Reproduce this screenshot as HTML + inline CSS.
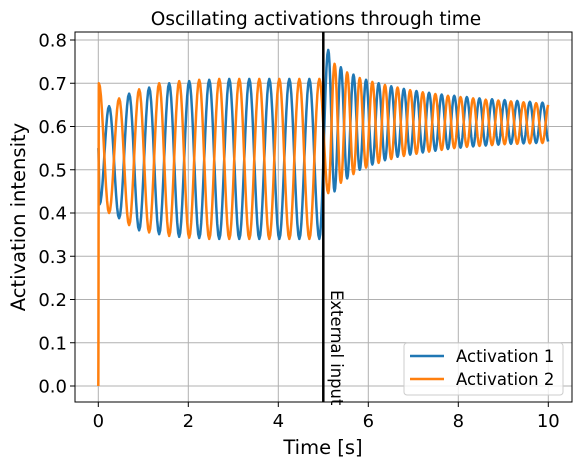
<!DOCTYPE html>
<html><head><meta charset="utf-8"><style>
body{margin:0;background:#fff;font-family:"Liberation Sans","DejaVu Sans",sans-serif}
svg text{font-family:"DejaVu Sans","Liberation Sans",sans-serif}
</style></head><body>
<svg id="chart" width="584" height="466" viewBox="0 0 584 466" xmlns="http://www.w3.org/2000/svg">
<rect width="584" height="466" fill="#fff"/>
<g id="grid"></g>
<g id="series"></g>
<line x1="323.3" y1="32" x2="323.3" y2="402" stroke="#000" stroke-width="2.5"/>
<text transform="translate(331,290) rotate(90)" font-size="16.4" fill="#000">External input</text>
<rect x="75" y="32" width="497" height="370" fill="none" stroke="#000" stroke-width="1"/>
<g id="ticks"></g>
<text x="316" y="25" font-size="18.5" text-anchor="middle">Oscillating activations through time</text>
<text x="323" y="454" font-size="19.5" text-anchor="middle">Time [s]</text>
<text transform="translate(25,217) rotate(-90)" font-size="19.5" text-anchor="middle">Activation intensity</text>
<g>
<rect x="404" y="343" width="159" height="52" rx="3" fill="#fff" fill-opacity="0.8" stroke="#ccc"/>
<line x1="410" y1="356" x2="444" y2="356" stroke="#1f77b4" stroke-width="2.5"/>
<text x="456" y="362" font-size="16.5">Activation 1</text>
<line x1="410" y1="379" x2="444" y2="379" stroke="#ff7f0e" stroke-width="2.5"/>
<text x="456" y="385" font-size="16.5">Activation 2</text>
</g>
</svg>
<script>
const xTicks=[0,2,4,6,8,10];
const yTicks=[0,0.1,0.2,0.3,0.4,0.5,0.6,0.7,0.8];
const yTickLabels=["0.0","0.1","0.2","0.3","0.4","0.5","0.6","0.7","0.8"];
// Activation 1 (blue): extrema values
const bluePrePeaks=[0.647,0.676,0.69,0.70,0.705,0.708,0.71,0.71,0.71,0.71,0.71];
const bluePreTroughs=[0.388,0.36,0.351,0.345,0.342,0.34,0.34,0.34,0.34,0.34,0.34];
const bluePostPeaks=[0.777,0.737,0.72,0.708,0.70,0.693,0.687,0.682,0.678,0.674,0.671,0.668,0.665,0.663,0.661,0.659,0.657,0.655];
const bluePostTroughs=[0.45,0.48,0.50,0.512,0.522,0.53,0.535,0.54,0.544,0.548,0.551,0.554,0.556,0.558,0.56,0.561,0.562,0.563];
// Activation 2 (orange)
const orangePrePeaks=[0.665,0.686,0.70,0.705,0.708,0.71,0.71,0.71,0.71,0.71,0.71];
const orangePreTroughs=[0.40,0.372,0.355,0.347,0.343,0.34,0.34,0.34,0.34,0.34,0.34];
const orangePostPeaks=[0.745,0.725,0.712,0.703,0.696,0.69,0.684,0.679,0.675,0.671,0.668,0.665,0.662,0.66,0.658,0.656,0.654,0.652];
const orangePostTroughs=[0.446,0.47,0.49,0.505,0.516,0.525,0.532,0.537,0.542,0.546,0.55,0.553,0.555,0.557,0.559,0.56,0.561,0.562];
const prePeriod=[0.445], postPeriod=[0.28];

const X=t=>98.3+45*t, Y=v=>386-432.5*v;
const NS="http://www.w3.org/2000/svg";
const grid=document.getElementById('grid'),ticks=document.getElementById('ticks'),ser=document.getElementById('series');
function mk(tag,attrs,parent){const e=document.createElementNS(NS,tag);for(const k in attrs)e.setAttribute(k,attrs[k]);parent.appendChild(e);return e;}
xTicks.forEach(t=>{
  const g=mk('line',{x1:X(t),x2:X(t),y1:32,y2:402,stroke:'#b0b0b0','stroke-width':1},grid);
  
  
  mk('line',{x1:X(t),x2:X(t),y1:402,y2:407,stroke:'#000'},ticks);
  const tx=mk('text',{x:X(t),y:427,'font-size':18,'text-anchor':'middle'},ticks);
  tx.textContent=t;
  
  
});
yTicks.forEach((v,i)=>{
  const g=mk('line',{x1:75,x2:572,y1:Y(v),y2:Y(v),stroke:'#b0b0b0','stroke-width':1},grid);
  
  
  mk('line',{x1:70,x2:75,y1:Y(v),y2:Y(v),stroke:'#000'},ticks);
  const tx=mk('text',{x:67,y:Y(v)+6.5,'font-size':18,'text-anchor':'end'},ticks);
  tx.textContent=yTickLabels[i];
  
  
});
function build(start,pre1,pre2,post1,post2,preT0,postT0){
  const ext=start.slice();const P=prePeriod[0],Q=postPeriod[0];
  for(let k=0;k<pre1.length;k++){ext.push([preT0+k*P,pre1[k]]);ext.push([preT0+k*P+P/2,pre2[k]]);}
  for(let k=0;k<post1.length;k++){ext.push([postT0+k*Q,post1[k]]);ext.push([postT0+k*Q+Q/2,post2[k]]);}
  let d='';
  for(let i=0;i<ext.length-1;i++){
    const [t0,v0]=ext[i],[t1,v1]=ext[i+1];
    for(let s=0;s<=10;s++){
      const f=s/10,t=t0+(t1-t0)*f;if(t>10)return d;
      const v=v0+(v1-v0)*(1-Math.cos(Math.PI*f))/2;
      d+=(d?'L':'M')+X(t).toFixed(2)+','+Y(v).toFixed(2);
    }
  }
  return d;
}
const dBlue=build([[0,0.55],[0.03,0.42]],bluePrePeaks,bluePreTroughs,bluePostPeaks,bluePostTroughs,0.24,5.11);
const dOrange=build([[0,0],[0.012,0.70]],orangePreTroughs,orangePrePeaks,orangePostTroughs,orangePostPeaks,0.24,5.11);
const pb=mk('path',{d:dBlue,fill:'none',stroke:'#1f77b4','stroke-width':2.5,'stroke-linejoin':'round'},ser);


const po=mk('path',{d:dOrange,fill:'none',stroke:'#ff7f0e','stroke-width':2.5,'stroke-linejoin':'round'},ser);


</script>
</body></html>
